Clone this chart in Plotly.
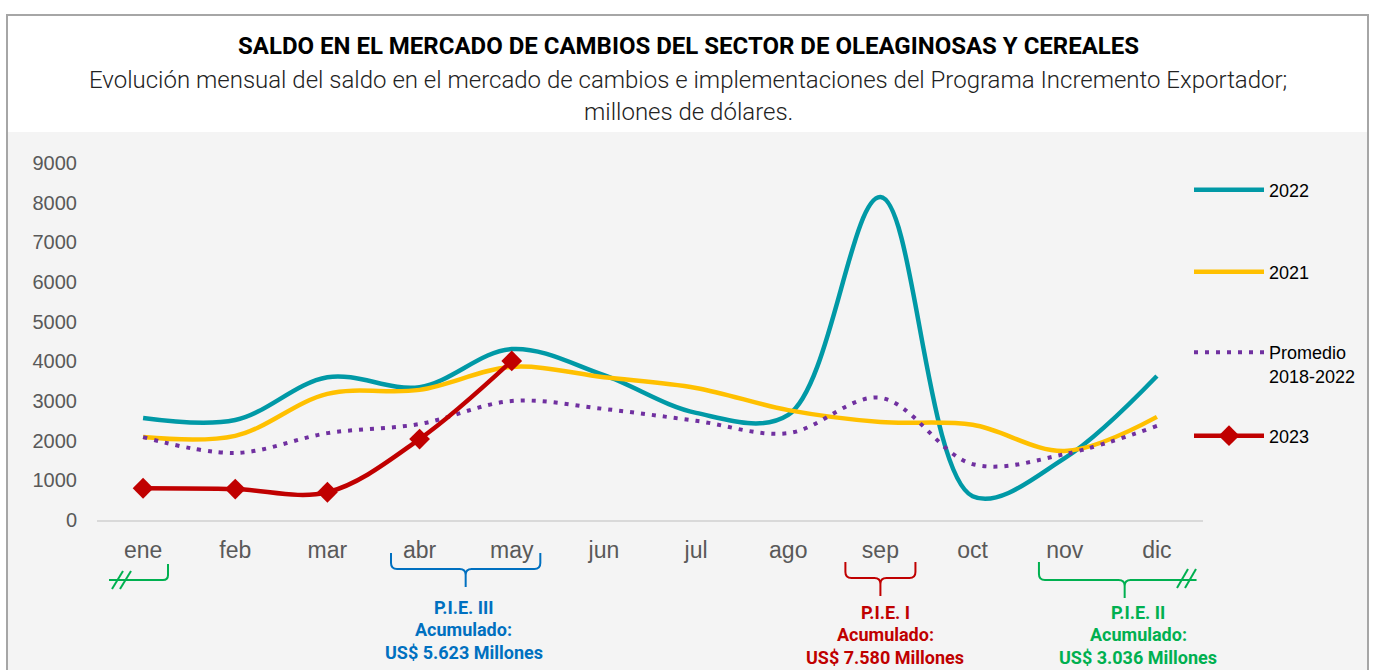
import plotly.graph_objects as go

# ---------------- data ----------------
months = ["ene", "feb", "mar", "abr", "may", "jun", "jul", "ago", "sep", "oct", "nov", "dic"]
v2022 = [2570, 2520, 3600, 3350, 4310, 3650, 2700, 2650, 8140, 600, 1560, 3630]
v2021 = [2090, 2120, 3180, 3280, 3860, 3600, 3330, 2770, 2470, 2400, 1740, 2600]
promedio = [2090, 1690, 2190, 2420, 3000, 2800, 2500, 2190, 3080, 1410, 1660, 2370]
v2023 = [800, 780, 700, 2040, 4010]
months_2023 = months[:5]
y_ticks = [0, 1000, 2000, 3000, 4000, 5000, 6000, 7000, 8000, 9000]

# ---------------- geometry helpers ----------------
W, H = 1373, 670
ML, MR, MT, MB = 97, 170, 163, 150
PW = W - ML - MR
PH = H - MT - MB


def px_x(px):
    return (px - ML) / PW


def px_y(py):
    return (H - MB - py) / PH


def cat_x(i):
    return (i + 0.5) / len(months)


def cat_px(i):
    return ML + cat_x(i) * PW


TEAL = "#0099a6"
YELLOW = "#ffc000"
PURPLE = "#7030a0"
RED = "#c00000"
BLUE = "#0070c0"
GREEN = "#00b050"

fig = go.Figure()
fig.add_trace(go.Scatter(x=months, y=v2022, name="2022", mode="lines",
                         line=dict(color=TEAL, width=4.5, shape="spline", smoothing=1),
                         legend="legend"))
fig.add_trace(go.Scatter(x=months, y=v2021, name="2021", mode="lines",
                         line=dict(color=YELLOW, width=4.5, shape="spline", smoothing=1),
                         legend="legend2"))
fig.add_trace(go.Scatter(x=months, y=promedio, name="Promedio<br>2018-2022", mode="lines",
                         line=dict(color=PURPLE, width=4, shape="spline", smoothing=1, dash="4px,7px"),
                         legend="legend3"))
fig.add_trace(go.Scatter(x=months_2023, y=v2023, name="2023", mode="lines+markers",
                         line=dict(color=RED, width=4.5, shape="spline", smoothing=1),
                         marker=dict(symbol="diamond", size=16, color=RED),
                         legend="legend4"))

shapes = []
# grey panel and outer border
shapes.append(dict(type="rect", xref="paper", yref="paper", layer="below",
                   x0=px_x(8), x1=px_x(1367), y0=px_y(700), y1=px_y(132),
                   fillcolor="#f4f4f4", line=dict(width=0)))
shapes.append(dict(type="rect", xref="paper", yref="paper", layer="below",
                   x0=px_x(7), x1=px_x(1368), y0=px_y(700), y1=px_y(15),
                   fillcolor="rgba(0,0,0,0)", line=dict(color="#a6a6a6", width=2)))


def P(x, y):
    return f"{px_x(x):.5f},{px_y(y):.5f}"


def brace(xl, xr, xc, ytop, ymid, ybot, color, r=6, right_tick=True):
    """curly brace opening upward (pixel coords -> paper)."""
    path = (f"M{P(xl, ytop)} L{P(xl, ymid - r)} Q{P(xl, ymid)} {P(xl + r, ymid)} "
            f"L{P(xc - r, ymid)} Q{P(xc, ymid)} {P(xc, ymid + r)} L{P(xc, ybot)} "
            f"M{P(xc, ymid + r)} Q{P(xc, ymid)} {P(xc + r, ymid)} ")
    if right_tick:
        path += f"L{P(xr - r, ymid)} Q{P(xr, ymid)} {P(xr, ymid - r)} L{P(xr, ytop)}"
    else:
        path += f"L{P(xr, ymid)}"
    return dict(type="path", xref="paper", yref="paper", path=path,
                line=dict(color=color, width=2))


# P.I.E. III (abr-may)
shapes.append(brace(cat_px(2.69), cat_px(4.31), cat_px(3.5), 553, 569, 587, BLUE))
# P.I.E. I (sep)
shapes.append(brace(cat_px(7.62), cat_px(8.38), cat_px(8.0), 562, 578, 596, RED))
# P.I.E. II (nov-dic, continuing)
shapes.append(brace(cat_px(9.72), cat_px(11.43), cat_px(10.65), 562, 580, 598, GREEN, right_tick=False))


def seg(x0, y0, x1, y1, color, w=2):
    return dict(type="line", xref="paper", yref="paper",
                x0=px_x(x0), y0=px_y(y0), x1=px_x(x1), y1=px_y(y1),
                line=dict(color=color, width=w))


# left green continuation (ene)
shapes.append(dict(type="path", xref="paper", yref="paper",
                   path=f"M{P(109, 580)} L{P(163, 580)} Q{P(168, 580)} {P(168, 575)} L{P(168, 564)}",
                   line=dict(color=GREEN, width=2)))
shapes.append(seg(112, 589, 123, 571, GREEN))
shapes.append(seg(120, 589, 131, 571, GREEN))
# right green break marks
shapes.append(seg(1177, 588, 1188, 569, GREEN))
shapes.append(seg(1185, 588, 1196, 569, GREEN))

annotations = [
    dict(text="<b>SALDO EN EL MERCADO DE CAMBIOS DEL SECTOR DE OLEAGINOSAS Y CEREALES</b>",
         x=px_x(688), y=px_y(46), xref="paper", yref="paper", showarrow=False,
         font=dict(family="Roboto", size=24, color="#000000"), xanchor="center", yanchor="middle"),
    dict(text="Evolución mensual del saldo en el mercado de cambios e implementaciones del Programa Incremento Exportador;",
         x=px_x(688), y=px_y(80), xref="paper", yref="paper", showarrow=False,
         font=dict(family="Roboto", size=24, color="#222222", weight=300), xanchor="center", yanchor="middle"),
    dict(text="millones de dólares.",
         x=px_x(688), y=px_y(112), xref="paper", yref="paper", showarrow=False,
         font=dict(family="Roboto", size=24, color="#222222", weight=300), xanchor="center", yanchor="middle"),
]

notes = [
    (3.48, 607, ["P.I.E. III", "Acumulado:", "US$ 5.623 Millones"], BLUE),
    (8.05, 612, ["P.I.E. I", "Acumulado:", "US$ 7.580 Millones"], RED),
    (10.8, 612, ["P.I.E. II", "Acumulado:", "US$ 3.036 Millones"], GREEN),
]
for ci, ytop, lines, col in notes:
    for k, txt in enumerate(lines):
        annotations.append(dict(text=f"<b>{txt}</b>", x=cat_x(ci), y=px_y(ytop + 22.5 * k),
                                xref="paper", yref="paper", showarrow=False,
                                xanchor="center", yanchor="middle", align="center",
                                font=dict(family="Roboto", size=18, color=col)))

legend_font = dict(family="Liberation Sans, Arial", size=18, color="#000000")


def leg(py):
    return dict(x=px_x(1189), y=px_y(py), xanchor="left", yanchor="middle",
                bgcolor="rgba(0,0,0,0)", valign="top", itemwidth=70, font=legend_font)


fig.update_layout(
    width=W, height=H,
    margin=dict(l=ML, r=MR, t=MT, b=MB, pad=0),
    paper_bgcolor="#ffffff",
    plot_bgcolor="rgba(0,0,0,0)",
    shapes=shapes,
    annotations=annotations,
    showlegend=True,
    legend=leg(190),
    legend2=leg(272),
    legend3=leg(364),
    legend4=leg(436),
    xaxis=dict(type="category", categoryorder="array", categoryarray=months,
               range=[-0.5, len(months) - 0.5], showgrid=False, zeroline=False,
               showline=True, linecolor="#d9d9d9", linewidth=2,
               ticks="outside", ticklen=8, tickcolor="rgba(0,0,0,0)",
               tickfont=dict(family="Liberation Sans, Arial", size=23, color="#595959")),
    yaxis=dict(range=[0, 9000], tickvals=y_ticks, showgrid=False, zeroline=False,
               showline=False, ticks="outside", ticklen=15, tickcolor="rgba(0,0,0,0)",
               tickfont=dict(family="Liberation Sans, Arial", size=20, color="#595959")),
)

fig.write_html("out.html", config={"displayModeBar": False},
               post_script="document.body.style.margin='0';")
